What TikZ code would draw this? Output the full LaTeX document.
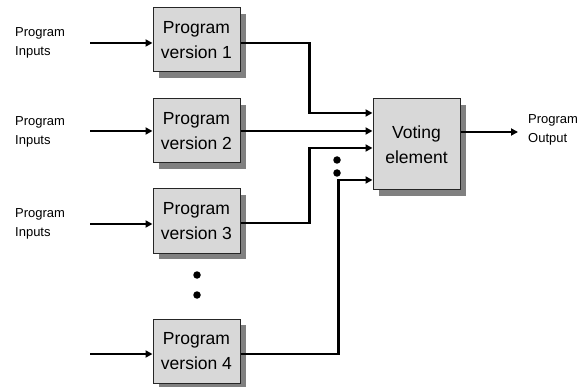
\documentclass[tikz,border=0pt]{standalone}
\usepackage{fontspec}
\setmainfont{Liberation Sans}
\usetikzlibrary{arrows.meta,shadows,calc}
\definecolor{boxfill}{RGB}{216,216,216}
\definecolor{shadowgray}{RGB}{128,128,128}
\tikzset{
  pbox/.style={draw=black!85, line width=1pt, fill=boxfill, minimum width=87pt, minimum height=64pt,
    inner sep=0pt, align=center, font=\fontsize{17.5}{25}\selectfont,
    drop shadow={shadow xshift=6pt, shadow yshift=-6pt, fill=shadowgray, opacity=1}},
  lbl/.style={align=left, anchor=west, inner sep=0pt, font=\fontsize{13}{19}\selectfont},
  wire/.style={line width=2.4pt, -{Triangle[length=7pt,width=7pt]}},
  inarrow/.style={line width=1.8pt, -{Triangle[length=7pt,width=7pt]}},
  dot/.style={circle, fill=black, inner sep=0pt, minimum size=7.5pt}
}
\begin{document}
\begin{tikzpicture}[x=1pt,y=-1pt]
\useasboundingbox (0,0) rectangle (583,387);
% program boxes
\node[pbox] (b1) at (196.5,40) {Program\\version 1};
\node[pbox] (b2) at (196.5,131) {Program\\version 2};
\node[pbox] (b3) at (196.5,221) {Program\\version 3};
\node[pbox] (b4) at (196.5,351) {Program\\version 4};
\node[pbox, minimum height=91pt] (vote) at (416.5,144.5) {Voting\\element};
% labels
\node[lbl] (l1) at (15,43) {Program\\Inputs};
\node[lbl] (l2) at (15,132) {Program\\Inputs};
\node[lbl] (l3) at (15,224) {Program\\Inputs};
\node[lbl] (lo) at (528,130) {Program\\Output};
% input start points
\coordinate (i1) at (90,43);
\coordinate (i2) at (90,131);
\coordinate (i3) at (90,224);
\coordinate (i4) at (90,354);
\coordinate (o) at (518,132);
\draw[inarrow] (i1) -- ([yshift=-3pt]b1.west);
\draw[inarrow] (i2) -- (b2.west);
\draw[inarrow] (i3) -- ([yshift=-3pt]b3.west);
\draw[inarrow] (i4) -- ([yshift=-3pt]b4.west);
% wires to voting
\draw[wire] ([yshift=-3pt]b1.east) -- ++(69,0) |- ([yshift=31.5pt]vote.west);
\draw[wire] (b2.east) -- (b2.east -| vote.west);
\draw[wire] ([yshift=-2pt]b3.east) -- ++(69,0) |- ([yshift=-3.5pt]vote.west);
\draw[wire] ([yshift=-3pt]b4.east) -- ++(98,0) |- ([yshift=-35.5pt]vote.west);
% output
\draw[inarrow] ([yshift=12.5pt]vote.east) -- (o);
% dots
\node[dot] (d1) at (197,275) {};
\node[dot] (d2) at (197,295) {};
\node[dot] (d3) at (337,160) {};
\node[dot] (d4) at (337,173) {};
\end{tikzpicture}
\end{document}
